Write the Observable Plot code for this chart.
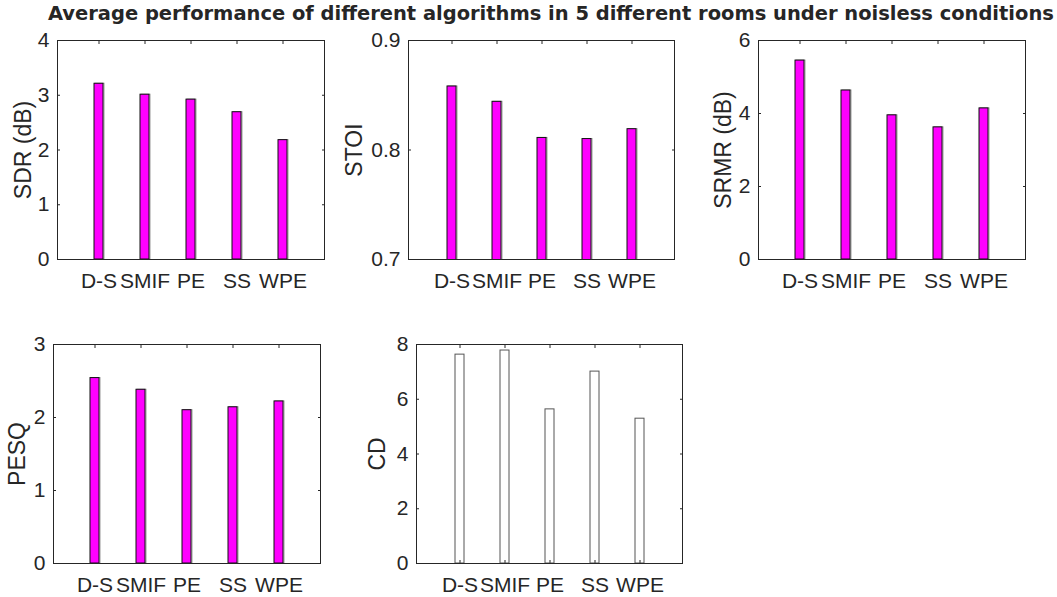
<!DOCTYPE html>
<html>
<head>
<meta charset="utf-8">
<script src="https://cdn.jsdelivr.net/npm/d3@7"></script>
<script src="https://cdn.jsdelivr.net/npm/@observablehq/plot@0.6"></script>
<style>
  html, body { margin: 0; padding: 0; background: #fff; }
  #chart { position: relative; width: 1057px; height: 597px; overflow: hidden; background: #fff;
           font-family: "Liberation Sans", Arial, Helvetica, sans-serif; color: #262626; }
  #title { position: absolute; white-space: nowrap; font-weight: bold; line-height: 1;
           font-family: "DejaVu Sans", "Liberation Sans", Arial, sans-serif; }
  .panel { position: absolute; }
</style>
</head>
<body>
<div id="chart"></div>
<script>
// ---- data ----
const titleText = "Average performance of different algorithms in 5 different rooms under noisless conditions";
const algorithms = ["D-S", "SMIF", "PE", "SS", "WPE"];
const sdr  = [3.21, 3.01, 2.92, 2.69, 2.18];
const stoi = [0.858, 0.844, 0.811, 0.810, 0.819];
const srmr = [5.45, 4.63, 3.95, 3.62, 4.14];
const pesq = [2.54, 2.38, 2.10, 2.14, 2.22];
const cd   = [7.63, 7.78, 5.63, 7.01, 5.29];

const sdrTicks  = [0, 1, 2, 3, 4];
const stoiTicks = [0.7, 0.8, 0.9];
const srmrTicks = [0, 2, 4, 6];
const pesqTicks = [0, 1, 2, 3];
const cdTicks   = [0, 2, 4, 6, 8];

// ---- layout ----
const FONT = '"Liberation Sans", Arial, Helvetica, sans-serif';
const INK = "#262626";
const TICK_FS = 21, LABEL_FS = 23;
const panels = [
  {label: "SDR (dB)",  values: sdr,  ticks: sdrTicks,  left: 57,  top: 40,  w: 267, h: 219, fill: "#ff00ff", stroke: "#111", labelDx: -34},
  {label: "STOI",      values: stoi, ticks: stoiTicks, left: 408, top: 40,  w: 266, h: 219, fill: "#ff00ff", stroke: "#111", labelDx: -54},
  {label: "SRMR (dB)", values: srmr, ticks: srmrTicks, left: 758, top: 40,  w: 267, h: 219, fill: "#ff00ff", stroke: "#111", labelDx: -35},
  {label: "PESQ",      values: pesq, ticks: pesqTicks, left: 53,  top: 344, w: 267, h: 219, fill: "#ff00ff", stroke: "#111", labelDx: -36},
  {label: "CD",        values: cd,   ticks: cdTicks,   left: 416, top: 344, w: 266, h: 219, fill: "none",    stroke: "#555", labelDx: -39}
];

const chart = document.getElementById("chart");

// title: sized so it spans the same width as in the reference
const title = document.createElement("div");
title.id = "title";
title.textContent = titleText;
title.style.fontSize = "19px";
chart.appendChild(title);
const w0 = title.getBoundingClientRect().width;
const titleFs = 19 * 1006 / w0;
title.style.fontSize = titleFs + "px";
title.style.left = "48px";
// DejaVu: ascent 0.928, descent 0.236 -> baseline at top + (1-1.164)/2*fs + 0.928*fs
title.style.top = (20.7 - 0.846 * titleFs) + "px";

const mL = 80, mR = 12, mT = 12, mB = 50;
for (const p of panels) {
  const data = algorithms.map((a, i) => ({alg: a, value: p.values[i]}));
  const domain = [p.ticks[0], p.ticks[p.ticks.length - 1]];
  const svg = Plot.plot({
    width: p.w + mL + mR,
    height: p.h + mT + mB,
    marginLeft: mL, marginRight: mR, marginTop: mT, marginBottom: mB,
    style: {fontFamily: FONT, fontSize: TICK_FS + "px", color: INK, background: "transparent", overflow: "visible"},
    x: {type: "band", domain: algorithms, paddingInner: 0.8, paddingOuter: 0.8, label: null},
    y: {domain, label: null},
    marks: [
      // inward ticks on all four sides (boxed axes)
      Plot.axisX({anchor: "bottom", tickSize: -3, fill: "none", label: null}),
      Plot.axisX({anchor: "top", tickSize: -3, fill: "none", label: null}),
      Plot.axisY(p.ticks, {anchor: "left", tickSize: -3, fill: "none", label: null}),
      Plot.axisY(p.ticks, {anchor: "right", tickSize: -3, fill: "none", label: null}),
      // tick labels
      Plot.axisX({anchor: "bottom", tickSize: 0, tickPadding: 14, fontSize: TICK_FS, label: null}),
      Plot.axisY(p.ticks, {anchor: "left", tickSize: 0, tickPadding: 8, fontSize: TICK_FS, label: null, tickFormat: d => String(d)}),
      // bars (with faint edge shadow for the filled ones)
      p.fill !== "none"
        ? Plot.barY(data, {x: "alg", y: "value", fill: "none", stroke: "#9a9a9a", strokeWidth: 1, dx: 1, clip: true})
        : null,
      Plot.barY(data, {x: "alg", y: "value", fill: p.fill, stroke: p.stroke, strokeWidth: 1, clip: true}),
      Plot.frame({stroke: INK, strokeWidth: 1}),
      // y axis title
      Plot.text([p.label], {text: d => d, frameAnchor: "left", rotate: -90, dx: p.labelDx,
        fontSize: LABEL_FS, textAnchor: "middle", lineAnchor: "middle", fill: INK})
    ]
  });
  svg.classList.add("panel");
  svg.style.left = (p.left - mL) + "px";
  svg.style.top = (p.top - mT) + "px";
  chart.appendChild(svg);
}
</script>
</body>
</html>
